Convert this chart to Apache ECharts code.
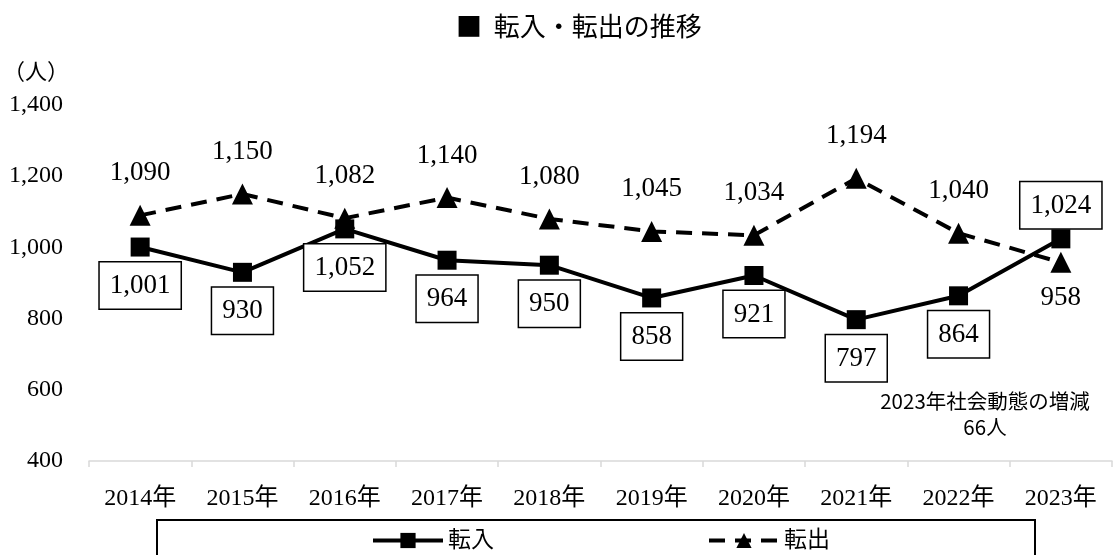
<!DOCTYPE html>
<html>
<head>
<meta charset="utf-8">
<script src="https://cdn.jsdelivr.net/npm/echarts@6/dist/echarts.min.js"></script>
<style>
html,body{margin:0;padding:0;background:#fff;}
#chart{width:1113px;height:555px;}
</style>
</head>
<body>
<div id="chart"></div>
<script>
const categories = ['2014年','2015年','2016年','2017年','2018年','2019年','2020年','2021年','2022年','2023年'];
const tennyu = [1001, 930, 1052, 964, 950, 858, 921, 797, 864, 1024];
const tenshutsu = [1090, 1150, 1082, 1140, 1080, 1045, 1034, 1194, 1040, 958];
const seriesNames = ['転入', '転出'];
const titleText = '■  転入・転出の推移';
const unitText = '（人）';
const noteText = '2023年社会動態の増減\n66人';

const SERIF = "'Liberation Serif', 'Noto Sans CJK JP', serif";
const SANS = "'Noto Sans CJK JP', 'Noto Sans', sans-serif";
const fmt = v => v.toLocaleString('en-US');

const chart = echarts.init(document.getElementById('chart'), null, {renderer: 'canvas'});

const boxLabel = {
  show: true, position: 'bottom', distance: 6,
  formatter: p => fmt(p.value),
  fontFamily: SERIF, fontSize: 27, color: '#000',
  borderColor: '#000', borderWidth: 1.5, backgroundColor: '#fff',
  padding: [10, 10, 9, 10]
};

const tennyuData = tennyu.map((v, i) => i === tennyu.length - 1
  ? {value: v, label: {position: 'top', distance: 1}}
  : v);
const tenshutsuData = tenshutsu.map((v, i) => i === tenshutsu.length - 1
  ? {value: v, label: {position: 'bottom', distance: 12}}
  : v);

chart.setOption({
  animation: false,
  backgroundColor: '#fff',
  title: {
    text: titleText, left: 451, top: 8,
    textStyle: {fontFamily: SANS, fontSize: 26, fontWeight: 'normal', color: '#000'}
  },
  grid: {left: 89, right: 1, top: 105, bottom: 94, containLabel: false},
  legend: {
    data: seriesNames, left: 366, top: 524, itemWidth: 70, itemHeight: 19, itemGap: 213,
    lineStyle: {width: 4},
    textStyle: {fontFamily: SERIF, fontSize: 23, color: '#000'}
  },
  xAxis: {
    type: 'category', data: categories, boundaryGap: true,
    axisLine: {lineStyle: {color: '#d9d9d9', width: 1.5}},
    axisTick: {show: true, length: 6, lineStyle: {color: '#d9d9d9', width: 1.5}},
    axisLabel: {fontFamily: SERIF, fontSize: 24, color: '#000', margin: 26}
  },
  yAxis: {
    type: 'value', min: 400, max: 1400, interval: 200,
    axisLine: {show: false}, axisTick: {show: false}, splitLine: {show: false},
    axisLabel: {fontFamily: SERIF, fontSize: 24, color: '#000', margin: 26, formatter: v => fmt(v)}
  },
  series: [
    {
      name: seriesNames[0], type: 'line', data: tennyuData,
      symbol: 'rect', symbolSize: 19,
      itemStyle: {color: '#000'},
      lineStyle: {color: '#000', width: 4},
      label: boxLabel, z: 3
    },
    {
      name: seriesNames[1], type: 'line', data: tenshutsuData,
      symbol: 'triangle', symbolSize: 21,
      itemStyle: {color: '#000'},
      lineStyle: {color: '#000', width: 4, type: [16, 10]},
      label: {show: true, position: 'top', distance: 18, formatter: p => fmt(p.value),
        fontFamily: SERIF, fontSize: 27, color: '#000'},
      z: 2
    }
  ],
  graphic: [
    {type: 'text', left: 3, top: 62, style: {text: unitText, font: "22px " + SERIF, fill: '#000'}},
    {type: 'text', x: 985, y: 388, style: {text: noteText, textAlign: 'center', font: "20.5px " + SANS, lineHeight: 26, fill: '#000'}},
    {type: 'rect', shape: {x: 157, y: 520, width: 878, height: 60}, style: {fill: 'none', stroke: '#000', lineWidth: 2}, z: -1}
  ]
});
</script>
</body>
</html>
